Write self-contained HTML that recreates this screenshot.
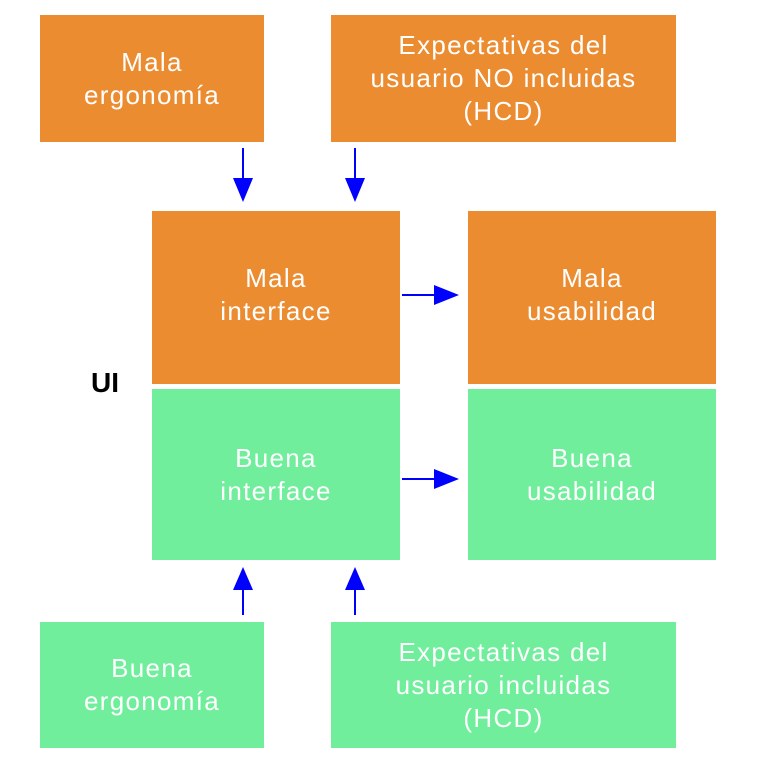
<!DOCTYPE html>
<html><head><meta charset="utf-8"><style>
body{margin:0;width:768px;height:768px;background:#fff;position:relative;overflow:hidden;font-family:"Liberation Sans",sans-serif}
.b{position:absolute;display:flex;align-items:center;justify-content:center;text-align:center;color:#fff;font-size:26px;line-height:33px;letter-spacing:1.3px;box-sizing:border-box}
.o{background:#EC8C31}.g{background:#70EE9C}
svg{position:absolute;left:0;top:0}
</style></head><body>
<div class="b o" style="left:40px;top:15px;width:224px;height:127px">Mala<br>ergonomía</div>
<div class="b o" style="left:331px;top:15px;width:345px;height:127px">Expectativas del<br>usuario NO incluidas<br>(HCD)</div>
<div class="b o" style="left:152px;top:211px;width:248px;height:173px;padding-bottom:6px">Mala<br>interface</div>
<div class="b o" style="left:468px;top:211px;width:248px;height:173px;padding-bottom:6px">Mala<br>usabilidad</div>
<div class="b g" style="left:152px;top:389px;width:248px;height:171px">Buena<br>interface</div>
<div class="b g" style="left:468px;top:389px;width:248px;height:171px">Buena<br>usabilidad</div>
<div class="b g" style="left:40px;top:622px;width:224px;height:126px">Buena<br>ergonomía</div>
<div class="b g" style="left:331px;top:622px;width:345px;height:126px">Expectativas del<br>usuario incluidas<br>(HCD)</div>
<div style="position:absolute;left:91px;top:367px;font-size:28px;font-weight:bold;color:#000">UI</div>
<svg width="768" height="768">
<g stroke="#0000FF" stroke-width="2" fill="#0000FF">
<line x1="243" y1="148" x2="243" y2="180"/><polygon points="233,178 253,178 243,202" stroke="none"/>
<line x1="355" y1="148" x2="355" y2="180"/><polygon points="345,178 365,178 355,202" stroke="none"/>
<line x1="402" y1="295" x2="436" y2="295"/><polygon points="434,285 434,305 459,295" stroke="none"/>
<line x1="402" y1="479" x2="436" y2="479"/><polygon points="434,469 434,489 459,479" stroke="none"/>
<line x1="243" y1="615" x2="243" y2="588"/><polygon points="233,590 253,590 243,567" stroke="none"/>
<line x1="355" y1="615" x2="355" y2="588"/><polygon points="345,590 365,590 355,567" stroke="none"/>
</g></svg>
</body></html>
